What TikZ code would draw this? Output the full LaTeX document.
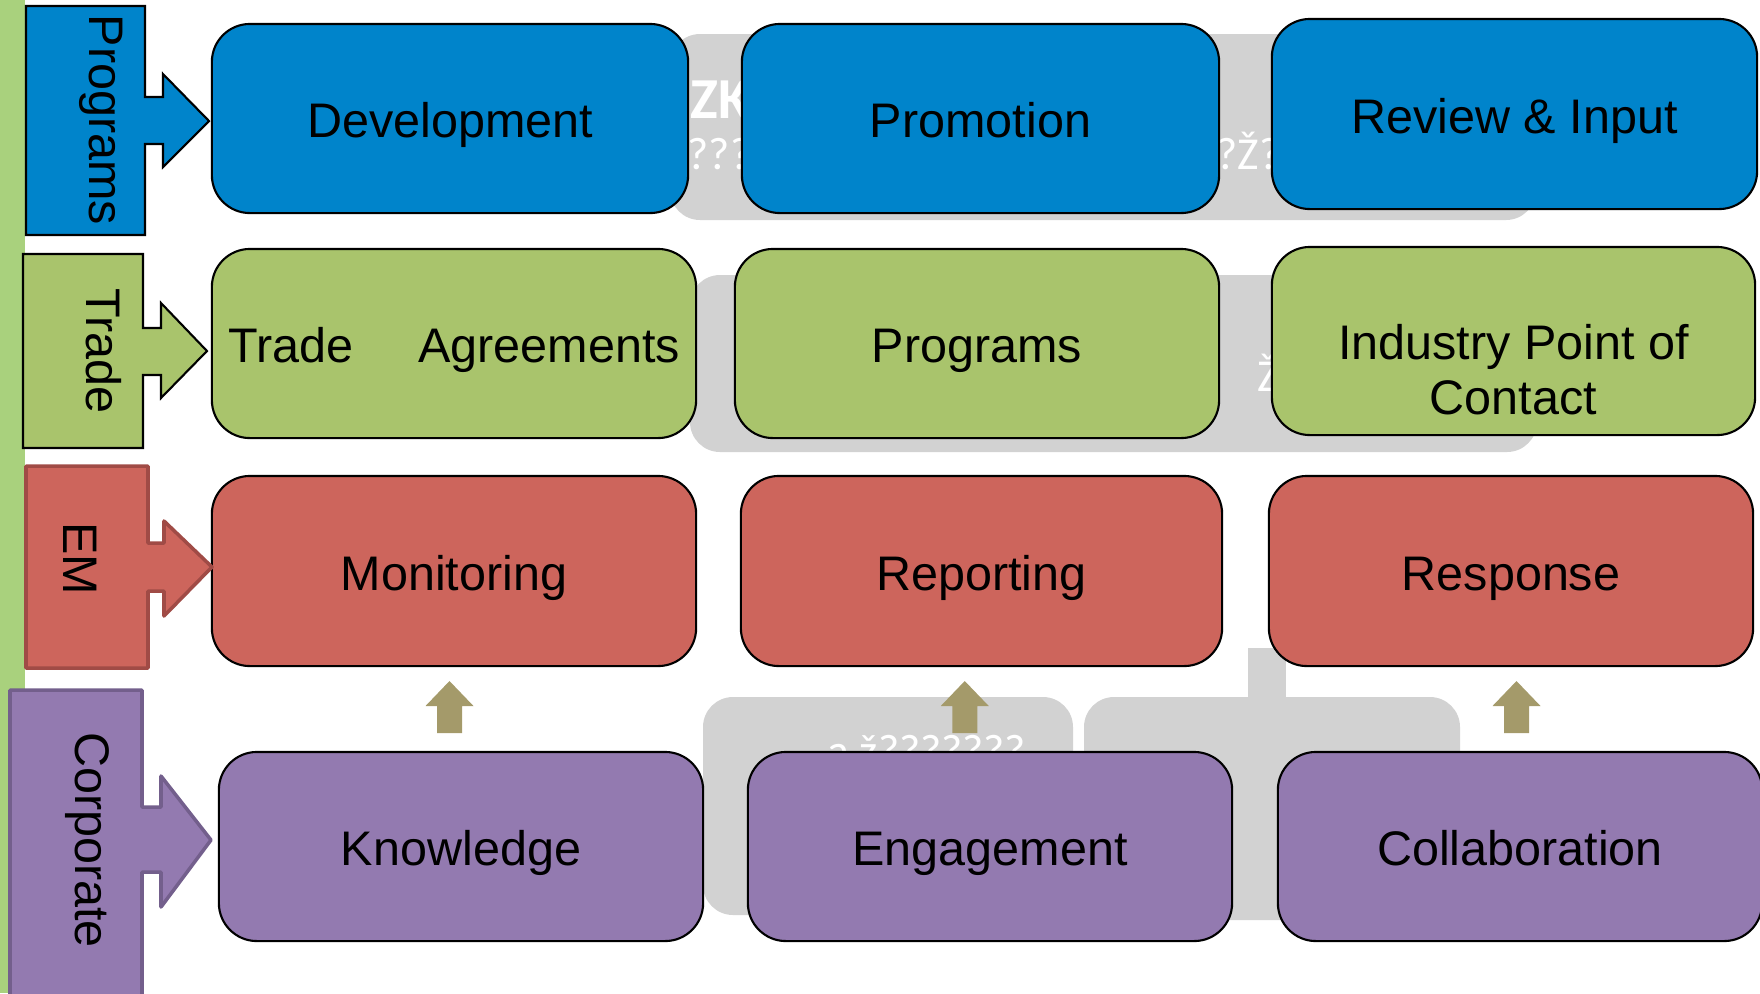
\documentclass[tikz,border=0pt]{standalone}
\usepackage{fontspec}
\setmainfont{Liberation Sans}
\newfontfamily\junkfont{Carlito}
\usetikzlibrary{calc}
\definecolor{progblue}{RGB}{0,132,203}
\definecolor{tradegreen}{RGB}{169,196,108}
\definecolor{emred}{RGB}{205,101,92}
\definecolor{emborder}{RGB}{160,75,70}
\definecolor{corppurple}{RGB}{147,122,176}
\definecolor{corpborder}{RGB}{115,95,140}
\definecolor{arrowolive}{RGB}{164,154,106}
\definecolor{bargreen}{RGB}{169,209,125}
\definecolor{shadowgray}{RGB}{210,210,210}
\tikzstyle{tile} = [rectangle, rounded corners=0.38cm, draw=black, line width=0.6pt, minimum width=4.84cm, minimum height=1.89cm, text centered, text height=12pt, text depth=1.2pt, font=\fontsize{13.8}{15.6}\selectfont]
\tikzstyle{progtile} = [tile, fill=progblue]
\tikzstyle{tradetile} = [tile, fill=tradegreen]
\tikzstyle{emtile} = [tile, fill=emred]
\tikzstyle{corptile} = [tile, fill=corppurple]
\tikzstyle{sidetab} = [line width=0.6pt, line join=miter]
\tikzstyle{sidelabel} = [rotate=-90, inner sep=0pt, font=\fontsize{13.8}{15.6}\selectfont]
\tikzstyle{uparrow} = [fill=arrowolive]
\tikzstyle{shadowblob} = [fill=shadowgray, rounded corners=0.3cm]
\tikzstyle{junk} = [text=white, anchor=base west, inner sep=0pt, font=\junkfont\fontsize{13}{13}\selectfont]

\begin{document}
\begin{tikzpicture}[x=0.01cm, y=-0.01cm]
    \useasboundingbox (0,0) rectangle (1760,993);

    % Shadows behind the rows
    \fill[shadowblob] (670,34) rectangle (1536,220);
    \fill[shadowblob] (690,275) rectangle (1537,452);
    \fill[shadowblob] (703,697) rectangle (1073,915);
    \fill[shadowblob] (1084,697) rectangle (1460,920);
    \fill[shadowgray] (1248,648) rectangle (1286,700);
    \node (zk) [junk, font=\junkfont\bfseries\fontsize{16.5}{16.5}\selectfont] at (690,118) {ZK};
    \node (qa) [junk] at (687,169) {????};
    \node (qb) [junk] at (1216,169) {?Ž?};
    \node (qc) [junk] at (1257,391) {Ž};
    \node (qd) [junk] at (827,766) {a ž???????};

    % Row 1
    \node (dev) [progtile, minimum width=4.76cm] at (450,118.5) {Development};
    \node (promo) [progtile, minimum width=4.77cm] at (980.5,118.5) {Promotion};
    \node (review) [progtile, minimum width=4.85cm, minimum height=1.9cm] at (1514.5,114) {Review \& Input};

    % Row 2
    \node (agree) [tradetile] at (454,343.5) {Trade\hspace{18.5pt}Agreements};
    \node (progs) [tradetile] at (977,343.5) {Programs};
    \node (ipoc) [tradetile, minimum width=4.83cm, minimum height=1.88cm] at (1513.5,341) {};
    \node (ipoctext) [align=center, font=\fontsize{13.8}{15.6}\selectfont] at ($(ipoc.center)+(0,29)$) {Industry Point of\\Contact};

    % Row 3
    \node (mon) [emtile, minimum height=1.9cm] at (454,571) {Monitoring};
    \node (report) [emtile, minimum width=4.81cm, minimum height=1.9cm] at (981.5,571) {Reporting};
    \node (resp) [emtile, minimum height=1.9cm] at (1511,571) {Response};

    % Row 4
    \node (know) [corptile] at (461,846.5) {Knowledge};
    \node (engage) [corptile] at (990,846.5) {Engagement};
    \node (collab) [corptile] at (1520,846.5) {Collaboration};

    % Side bar and tabs
    \fill[bargreen] (0,0) rectangle (25,993);
    \draw[sidetab, fill=progblue, draw=black] (26,6) -- (145,6) -- (145,97) -- (163,97) -- (163,74) -- (209,121) -- (163,167) -- (163,144) -- (145,144) -- (145,235) -- (26,235) -- cycle;
    \draw[sidetab, fill=tradegreen, draw=black] (23,254) -- (143,254) -- (143,328) -- (161,328) -- (161,303) -- (207,351) -- (161,398) -- (161,375) -- (143,375) -- (143,448) -- (23,448) -- cycle;
    \draw[sidetab, fill=emred, draw=emborder, line width=1pt, line join=round] (26,466) -- (148,466) -- (148,543) -- (164,543) -- (164,521) -- (212,567) -- (164,616) -- (164,591) -- (148,591) -- (148,668) -- (26,668) -- cycle;
    \draw[sidetab, fill=corppurple, draw=corpborder, line width=1pt, line join=round] (10,690) -- (142,690) -- (142,807) -- (161,807) -- (161,776) -- (211,840) -- (161,907) -- (161,872) -- (142,872) -- (142,1010) -- (10,1010) -- cycle;
    \node (progside) [sidelabel] at (101,120) {Programs};
    \node (tradeside) [sidelabel] at (103.5,351) {Trade};
    \node (emside) [sidelabel] at (80,559) {EM};
    \node (corpside) [sidelabel] at (87.5,840) {Corporate};

    % Up arrows
    \foreach \lo/\hi/\dx in {know/mon/-8, engage/report/-21, collab/resp/1}
        \fill[uparrow] ($(\lo.north)!0.5!(\hi.south)+(\dx,0)$) ++(0,-28) -- ++(24,25) -- ++(-11.5,0) -- ++(0,27) -- ++(-25,0) -- ++(0,-27) -- ++(-11.5,0) -- cycle;
\end{tikzpicture}
\end{document}
